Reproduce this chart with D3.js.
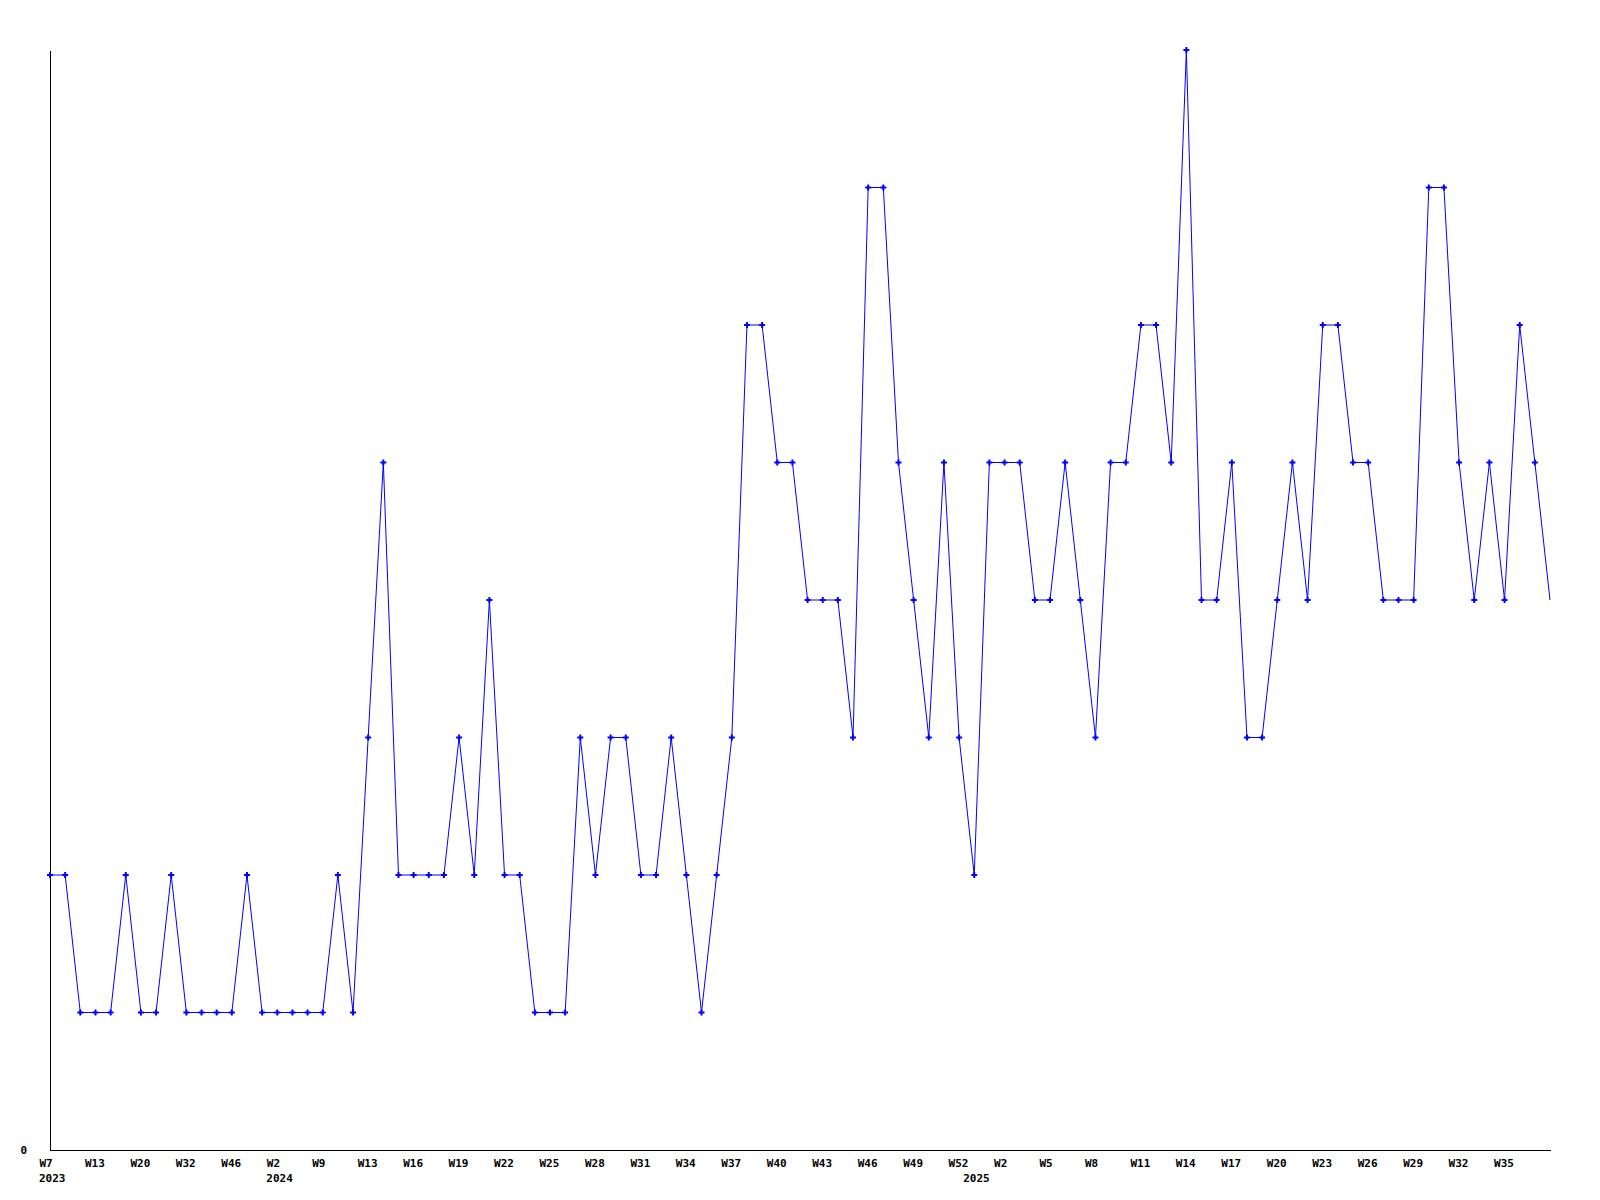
<!DOCTYPE html>
<html>
<head>
<meta charset="utf-8">
<script src="https://cdn.jsdelivr.net/npm/d3@7"></script>
<style>
  body { margin: 0; background: #fff; }
  text { font-family: "DejaVu Sans Mono", monospace; font-weight: bold; font-size: 11px; fill: #000; }
</style>
</head>
<body>
<div id="svg-container"></div>
<script>
// weekly counts, one per point, left to right
const values = [
  2, 2, 1, 1, 1, 2, 1, 1, 2, 1,
  1, 1, 1, 2, 1, 1, 1, 1, 1, 2,
  1, 3, 5, 2, 2, 2, 2, 3, 2, 4,
  2, 2, 1, 1, 1, 3, 2, 3, 3, 2,
  2, 3, 2, 1, 2, 3, 6, 6, 5, 5,
  4, 4, 4, 3, 7, 7, 5, 4, 3, 5,
  3, 2, 5, 5, 5, 4, 4, 5, 4, 3,
  5, 5, 6, 6, 5, 8, 4, 4, 5, 3,
  3, 4, 5, 4, 6, 6, 5, 5, 4, 4,
  4, 7, 7, 5, 4, 5, 4, 6, 5, 4
]

// x tick labels: every third point
const tickIndex = [0, 3, 6, 9, 12, 15, 18, 21, 24, 27, 30, 33, 36, 39, 42, 45, 48,
  51, 54, 57, 60, 63, 66, 69, 72, 75, 78, 81, 84, 87, 90, 93, 96]
const tickWeeks = ['W7', 'W13', 'W20', 'W32', 'W46', 'W2', 'W9', 'W13', 'W16', 'W19', 'W22',
  'W25', 'W28', 'W31', 'W34', 'W37', 'W40', 'W43', 'W46', 'W49', 'W52', 'W2', 'W5',
  'W8', 'W11', 'W14', 'W17', 'W20', 'W23', 'W26', 'W29', 'W32', 'W35']
// year labels sit under the first point of each year
const yearIndex = [0, 15, 61]
const yearLabels = ['2023', '2024', '2025']

// dimensions
const dim = {
    width: 1600,
    height: 1200,
    margin: { top: 50, right: 50, bottom: 50, left: 50 }
}

const svg = d3.select('#svg-container')
    .append('svg')
    .attr('width', dim.width)
    .attr('height', dim.height)

const xScale = d3.scalePoint()
    .domain(d3.range(values.length))
    .range([dim.margin.left, dim.width - dim.margin.right])

const yScale = d3.scaleLinear()
    .domain([0, 8])
    .range([dim.height - dim.margin.bottom, dim.margin.top])

// axes
const xAxis = svg.append('g')
    .attr('transform', `translate(0, ${yScale(0)})`)
    .call(d3.axisBottom(xScale)
        .tickValues(tickIndex)
        .tickSize(0)
        .tickSizeOuter(0)
        .tickFormat((d, i) => tickWeeks[i]))
xAxis.select('.domain').attr('stroke', '#000').attr('shape-rendering', 'crispEdges')
xAxis.selectAll('text')
    .attr('font-family', null).attr('font-size', null)
    .attr('text-anchor', 'start')
    .attr('x', -11)
    .attr('y', 17)
    .attr('dy', null)

// year row under the week labels
svg.append('g')
    .selectAll('text')
    .data(yearIndex)
    .join('text')
    .attr('x', d => xScale(d) - 11)
    .attr('y', yScale(0) + 32)
    .text((d, i) => yearLabels[i])

const yAxis = svg.append('g')
    .attr('transform', `translate(${xScale(0)}, 0)`)
    .call(d3.axisLeft(yScale)
        .tickValues([0])
        .tickSize(0)
        .tickSizeOuter(0)
        .tickPadding(23))
yAxis.select('.domain').attr('stroke', '#000').attr('shape-rendering', 'crispEdges')
yAxis.selectAll('text').attr('font-family', null).attr('font-size', null)

// series line
const line = d3.line()
    .x((d, i) => xScale(i))
    .y(d => yScale(d))

svg.append('path')
    .datum(values)
    .attr('fill', 'none')
    .attr('stroke', '#0000ff')
    .attr('stroke-width', 1)
    .attr('d', line)

// markers (the last, unfinished week has none)
svg.append('g')
    .selectAll('path')
    .data(values.slice(0, -1))
    .join('path')
    .attr('transform', (d, i) => `translate(${xScale(i)}, ${yScale(d)})`)
    .attr('d', d3.symbol(d3.symbolCross).size(20))
    .attr('fill', '#0000ff')
</script>
</body>
</html>
